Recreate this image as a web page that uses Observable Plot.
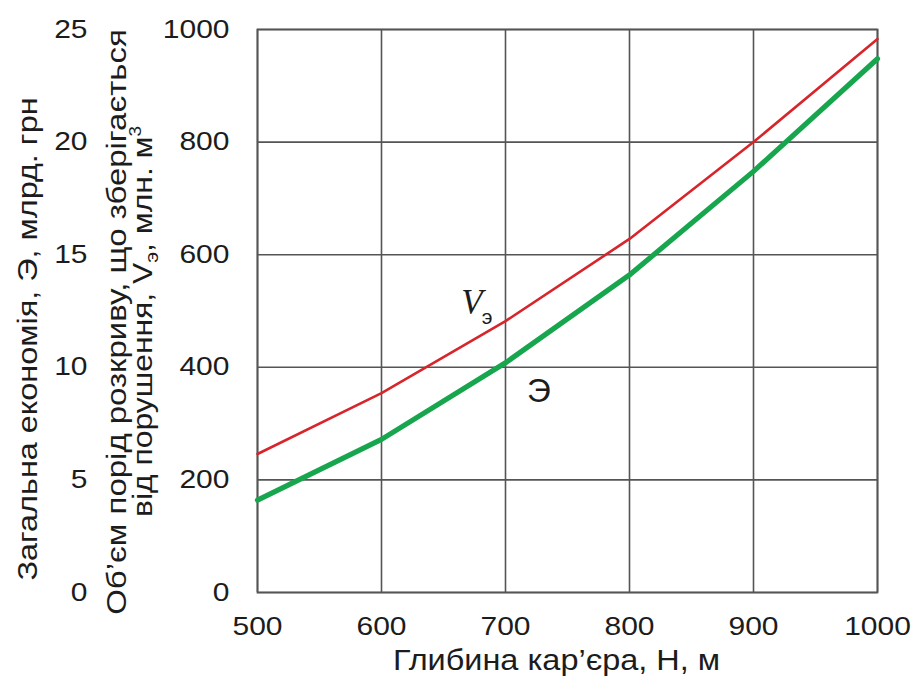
<!DOCTYPE html>
<html>
<head>
<meta charset="utf-8">
<script src="https://cdn.jsdelivr.net/npm/d3@7"></script>
<script src="https://cdn.jsdelivr.net/npm/@observablehq/plot@0.6"></script>
<style>
  html, body { margin: 0; padding: 0; background: #fff; }
  #chart svg { display: block; }
</style>
</head>
<body>
<div id="chart"></div>
<script>
// Глибина кар'єра, Н, м
const depth = [500, 600, 700, 800, 900, 1000];
// Об'єм порід розкриву, що зберігається від порушення, V_э, млн. м³
const volume = [246, 354, 482, 628, 800, 983];
// Загальна економія, Э, млрд. грн
const saving = [4.1, 6.8, 10.2, 14.1, 18.7, 23.7];

// Tick labels
const depthTicks = [500, 600, 700, 800, 900, 1000];
const volumeTicks = [0, 200, 400, 600, 800, 1000];
const savingTicks = [0, 5, 10, 15, 20, 25];

// Axis titles
const xTitle = "Глибина кар’єра, Н, м";
const savingTitle = "Загальна економія, Э, млрд. грн";
const volumeTitle1 = "Об’єм порід розкриву, що зберігається";

// 25 млрд. грн sits level with 1000 млн. м³
const savingToVolume = 1000 / 25;

const rows = depth.map((h, i) => ({h, v: volume[i], e: saving[i]}));

const sans = "'Liberation Sans', Arial, Helvetica, sans-serif";
const ink = "#1c1c1c";
const gridColor = "#555";

// Second line of the inner axis title, with sub- and superscript
function volumeTitleLine2(index, scales, values, dimensions) {
  const {marginLeft, marginTop, marginBottom, height} = dimensions;
  const cx = marginLeft - 114;
  const cy = marginTop + (height - marginTop - marginBottom) / 2 + 11;
  const t = d3.create("svg:text")
    .attr("transform", `translate(${cx},${cy}) rotate(-90) scale(1.18,1)`)
    .attr("text-anchor", "middle")
    .attr("dy", "0.32em")
    .attr("font-family", sans)
    .attr("font-size", 27)
    .attr("fill", ink);
  t.append("tspan").text("від порушення, V");
  t.append("tspan").attr("dy", 6).attr("font-size", 18).text("э");
  t.append("tspan").attr("dy", -6).text(", млн. м");
  t.append("tspan").attr("dy", -11).attr("font-size", 16).text("3");
  return t.node();
}

const chart = Plot.plot({
  width: 918,
  height: 687,
  marginLeft: 257,
  marginRight: 41,
  marginTop: 29,
  marginBottom: 95,
  style: {fontFamily: sans, fontSize: "25px", color: ink, background: "#fff"},
  x: {domain: [500, 1000]},
  y: {domain: [0, 1000]},
  marks: [
    Plot.gridX(depthTicks, {stroke: gridColor, strokeOpacity: 1, strokeWidth: 1.6}),
    Plot.gridY(volumeTicks, {stroke: gridColor, strokeOpacity: 1, strokeWidth: 1.6}),
    Plot.frame({stroke: gridColor, strokeWidth: 1.8}),

    // bottom axis
    Plot.axisX(depthTicks, {tickSize: 0, tickPadding: 25, label: null, fontSize: 25, tickFormat: (d) => String(d)}),
    Plot.text([xTitle], {
      frameAnchor: "bottom", textAnchor: "middle", dx: -11, dy: 77, fontSize: 29, fill: ink
    }),

    // inner left axis: volume
    Plot.axisY(volumeTicks, {tickSize: 0, tickPadding: 28, label: null, fontSize: 25, tickFormat: (d) => String(d)}),
    Plot.text([volumeTitle1], {
      frameAnchor: "left", textAnchor: "middle", rotate: -90, dx: -140, dy: 11, fontSize: 27, fill: ink
    }),
    volumeTitleLine2,

    // outer left axis: saving, placed on the shared y scale
    Plot.text(savingTicks, {
      y: (d) => d * savingToVolume, text: (d) => String(d),
      frameAnchor: "left", dx: -170, textAnchor: "end", fontSize: 25, fill: ink
    }),
    Plot.text([savingTitle], {
      frameAnchor: "left", textAnchor: "middle", rotate: -90, dx: -229, dy: 28, fontSize: 27, fill: ink
    }),

    // curves
    Plot.line(rows, {x: "h", y: "v", stroke: "#d7252b", strokeWidth: 2.6}),
    Plot.line(rows, {x: "h", y: (d) => d.e * savingToVolume, stroke: "#17a64e", strokeWidth: 5.2}),

    // curve labels
    Plot.text([{h: 673, v: 515}], {
      x: "h", y: "v", text: () => "V",
      fontFamily: "'Liberation Serif', 'DejaVu Serif', serif", fontStyle: "italic",
      fontSize: 35, fill: ink
    }),
    Plot.text([{h: 673, v: 515}], {
      x: "h", y: "v", text: () => "э", dx: 15, dy: 15, fontSize: 21, fill: ink
    }),
    Plot.text([{h: 727, v: 357}], {
      x: "h", y: "v", text: () => "Э", fontSize: 33, fill: ink
    })
  ]
});

// All labels are set in a slightly widened face
function widenNode(node, k) {
  const t = node.getAttribute("transform") || "";
  node.setAttribute("transform", `${t} scale(${k},1)`);
}
const svg = d3.select(chart);
svg.selectAll('g[aria-label="x-axis tick label"] text').each(function () { widenNode(this, 1.2); });
svg.selectAll('g[aria-label="y-axis tick label"] text').each(function () { widenNode(this, 1.2); });

const widthFactor = new Map([
  [xTitle, 1.12],
  [savingTitle, 1.2],
  [volumeTitle1, 1.22],
  ...savingTicks.map((d) => [String(d), 1.2])
]);
svg.selectAll('g[aria-label="text"] text').each(function () {
  const k = widthFactor.get(this.textContent);
  if (k) widenNode(this, k);
});

document.getElementById("chart").append(chart);
</script>
</body>
</html>
